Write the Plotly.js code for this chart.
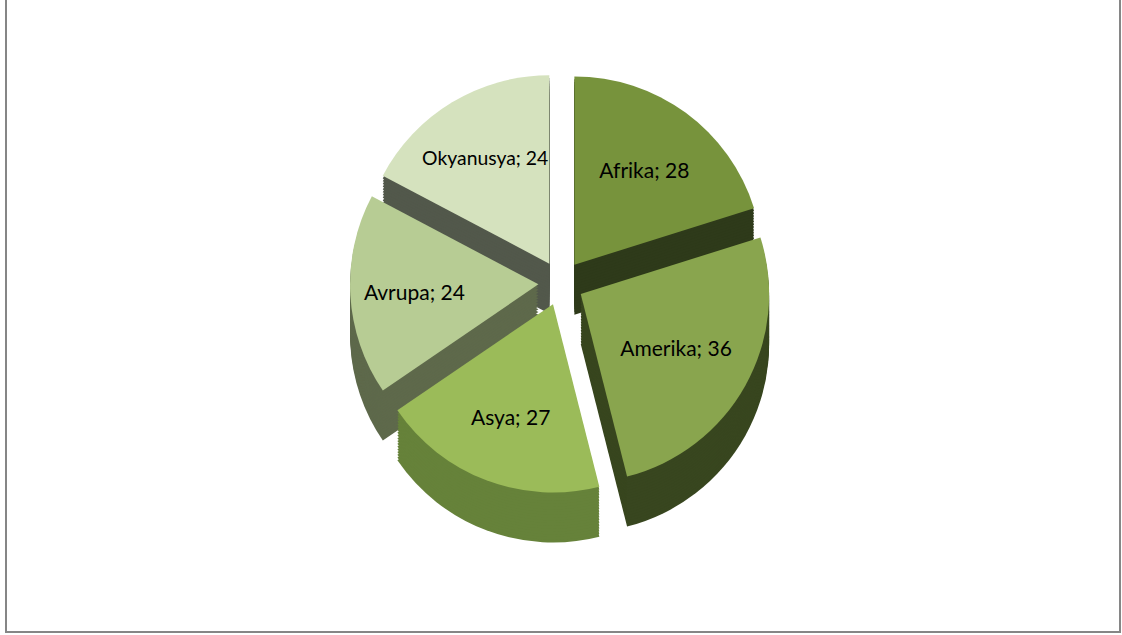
<!DOCTYPE html>
<html>
<head>
<meta charset="utf-8">
<script src="https://cdn.plot.ly/plotly-3.0.1.min.js"></script>
<style>
  html, body { margin: 0; padding: 0; background: #ffffff; }
  #chart { width: 1122px; height: 635px; }
</style>
</head>
<body>
<div id="chart"></div>
<script>
// Data
const categories = ["Afrika", "Amerika", "Asya", "Avrupa", "Okyanusya"];
const values = [28, 36, 27, 24, 24];

// Styles
const topColors = ["#77933C", "#89A54E", "#9BBB59", "#B7CC94", "#D5E2BE"];
const sideColors = ["#2E3A1A", "#38461F", "#66823A", "#5E694B", "#52584B"];

const W = 1122, H = 635;
const topPx = 72, botPx = 494;   // top face pixel extent
const depth = 50;                 // extrusion depth in px
const layers = 18;
const pull = 0.12;

function dom(offset) {
  return { x: [0, 1], y: [1 - (botPx + offset) / H, 1 - (topPx + offset) / H] };
}

const traces = [];
for (let i = layers; i >= 1; i--) {
  traces.push({
    type: "pie",
    labels: categories,
    values: values,
    sort: false,
    direction: "clockwise",
    rotation: 0,
    pull: pull,
    domain: dom(depth * i / layers),
    marker: { colors: sideColors, line: { width: 0 } },
    textinfo: "none",
    hoverinfo: "skip",
    showlegend: false
  });
}
traces.push({
  type: "pie",
  labels: categories,
  values: values,
  sort: false,
  direction: "clockwise",
  rotation: 0,
  pull: pull,
  domain: dom(0),
  marker: { colors: topColors, line: { width: 0 } },
  texttemplate: "%{label}; %{value}",
  textposition: "inside",
  insidetextorientation: "horizontal",
  textfont: { family: "Lato, 'Open Sans', sans-serif", size: 21, color: "#000000" },
  hoverinfo: "label+value",
  showlegend: false
});

const layout = {
  width: W, height: H,
  margin: { l: 0, r: 0, t: 0, b: 0 },
  paper_bgcolor: "#ffffff",
  showlegend: false,
  font: { family: "Lato, 'Open Sans', sans-serif" },
  shapes: [{
    type: "rect", xref: "paper", yref: "paper",
    x0: 6 / W, x1: 1120 / W, y0: 1 - 632 / H, y1: 1.02,
    line: { color: "#868686", width: 2 }, fillcolor: "rgba(0,0,0,0)", layer: "below"
  }]
};

Plotly.newPlot("chart", traces, layout, { displayModeBar: false, staticPlot: true });
</script>
</body>
</html>
